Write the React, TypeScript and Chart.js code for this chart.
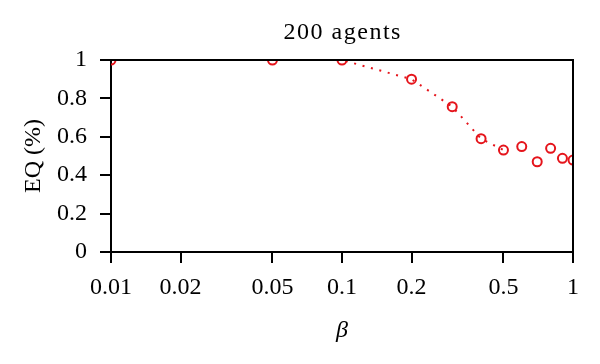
import React, { useEffect, useRef } from "react";
import { Chart, registerables } from "chart.js";

Chart.register(...registerables);

// Measured data (beta on log axis, EQ fraction)
const betaValues = [0.01, 0.05, 0.1, 0.2, 0.3, 0.4, 0.5, 0.6, 0.7, 0.8, 0.9, 1.0];
const eqValues = [1.0, 1.0, 1.0, 0.9, 0.757, 0.59, 0.531, 0.549, 0.47, 0.54, 0.488, 0.479];
// Dotted trend line (visible part)
const lineBeta = [0.01, 0.05, 0.1, 0.2, 0.3, 0.4, 0.5];
const lineEq = [1.0, 1.0, 1.0, 0.9, 0.757, 0.59, 0.531];
// Tick labels
const xTicks = [0.01, 0.02, 0.05, 0.1, 0.2, 0.5, 1];
const yTicks = [0, 0.2, 0.4, 0.6, 0.8, 1];

const chartTitle = "200 agents";
const xTitle = "β";
const yTitle = "EQ (%)";

const RED = "#e5141b";
const FONT = "'Liberation Serif', 'Times New Roman', serif";

const framePlugin = {
  id: "frame",
  afterDatasetsDraw(chart: any) {
    const { ctx, chartArea } = chart;
    const { left, top, right, bottom } = chartArea;
    ctx.save();
    ctx.strokeStyle = "#000";
    ctx.lineWidth = 2;
    ctx.beginPath();
    ctx.moveTo(left - 1, top);
    ctx.lineTo(right, top);
    ctx.lineTo(right, bottom);
    ctx.stroke();
    ctx.restore();
  },
};

const titlePlugin = {
  id: "centeredTitle",
  afterDraw(chart: any) {
    const { ctx, chartArea } = chart;
    ctx.save();
    ctx.fillStyle = "#000";
    ctx.font = `24px ${FONT}`;
    try {
      (ctx as any).letterSpacing = "1.5px";
    } catch (e) {}
    ctx.textAlign = "center";
    ctx.textBaseline = "middle";
    ctx.fillText(chartTitle, (chartArea.left + chartArea.right) / 2 + 0.75, 33);
    ctx.restore();
  },
};

export default function App() {
  const canvasRef = useRef<HTMLCanvasElement | null>(null);

  useEffect(() => {
    if (!canvasRef.current) return;
    const chart = new Chart(canvasRef.current, {
      type: "scatter",
      data: {
        datasets: [
          {
            data: lineBeta.map((x, i) => ({ x, y: lineEq[i] })),
            showLine: true,
            borderColor: RED,
            borderWidth: 2,
            borderDash: [2, 6.7],
            pointRadius: 0,
            fill: false,
            clip: 0,
            order: 2,
          } as any,
          {
            data: betaValues.map((x, i) => ({ x, y: eqValues[i] })),
            showLine: false,
            borderColor: RED,
            backgroundColor: "rgba(255,255,255,0)",
            borderWidth: 2,
            pointRadius: 4.5,
            pointHoverRadius: 4.5,
            clip: 0,
            order: 1,
          } as any,
        ],
      },
      options: {
        animation: false,
        responsive: false,
        devicePixelRatio: 1,
        layout: { padding: { left: 0, right: 27, top: 60, bottom: 0 } },
        plugins: {
          legend: { display: false },
          tooltip: { enabled: false },
          title: { display: false },
        },
        scales: {
          x: {
            type: "logarithmic",
            min: 0.01,
            max: 1,
            afterBuildTicks: (scale: any) => {
              scale.ticks = xTicks.map((v) => ({ value: v }));
            },
            afterFit: (scale: any) => {
              scale.height = 112;
            },
            ticks: {
              autoSkip: false,
              maxRotation: 0,
              color: "#000",
              padding: 10,
              font: { family: FONT, size: 24, lineHeight: 1.2 },
              callback: (v: any) => String(v),
            },
            grid: {
              display: true,
              drawOnChartArea: false,
              drawTicks: true,
              tickLength: 11,
              color: "#000",
              lineWidth: 2,
            },
            border: { display: true, color: "#000", width: 2 },
            title: {
              display: true,
              text: xTitle,
              color: "#000",
              font: { family: FONT, size: 24, style: "italic", lineHeight: 1.2 },
              padding: { top: 0, bottom: 18.6 },
            },
          },
          y: {
            type: "linear",
            min: 0,
            max: 1,
            afterBuildTicks: (scale: any) => {
              scale.ticks = yTicks.map((v) => ({ value: v }));
            },
            afterFit: (scale: any) => {
              scale.width = 111;
            },
            ticks: {
              autoSkip: false,
              color: "#000",
              padding: 13,
              font: { family: FONT, size: 24, lineHeight: 1.2 },
              callback: (v: any) => String(v),
            },
            grid: {
              display: true,
              drawOnChartArea: false,
              drawTicks: true,
              tickLength: 11,
              color: "#000",
              lineWidth: 2,
            },
            border: { display: true, color: "#000", width: 2 },
            title: {
              display: true,
              text: yTitle,
              color: "#000",
              font: { family: FONT, size: 24, lineHeight: 1.2 },
              padding: { top: 19.6, bottom: 0 },
            },
          },
        },
      },
      plugins: [framePlugin, titlePlugin],
    } as any);
    return () => chart.destroy();
  }, []);

  return (
    <div style={{ position: "absolute", left: 0, top: 0, width: 600, height: 364, background: "#fff" }}>
      <canvas ref={canvasRef} width={600} height={364} style={{ display: "block" }} />
    </div>
  );
}
